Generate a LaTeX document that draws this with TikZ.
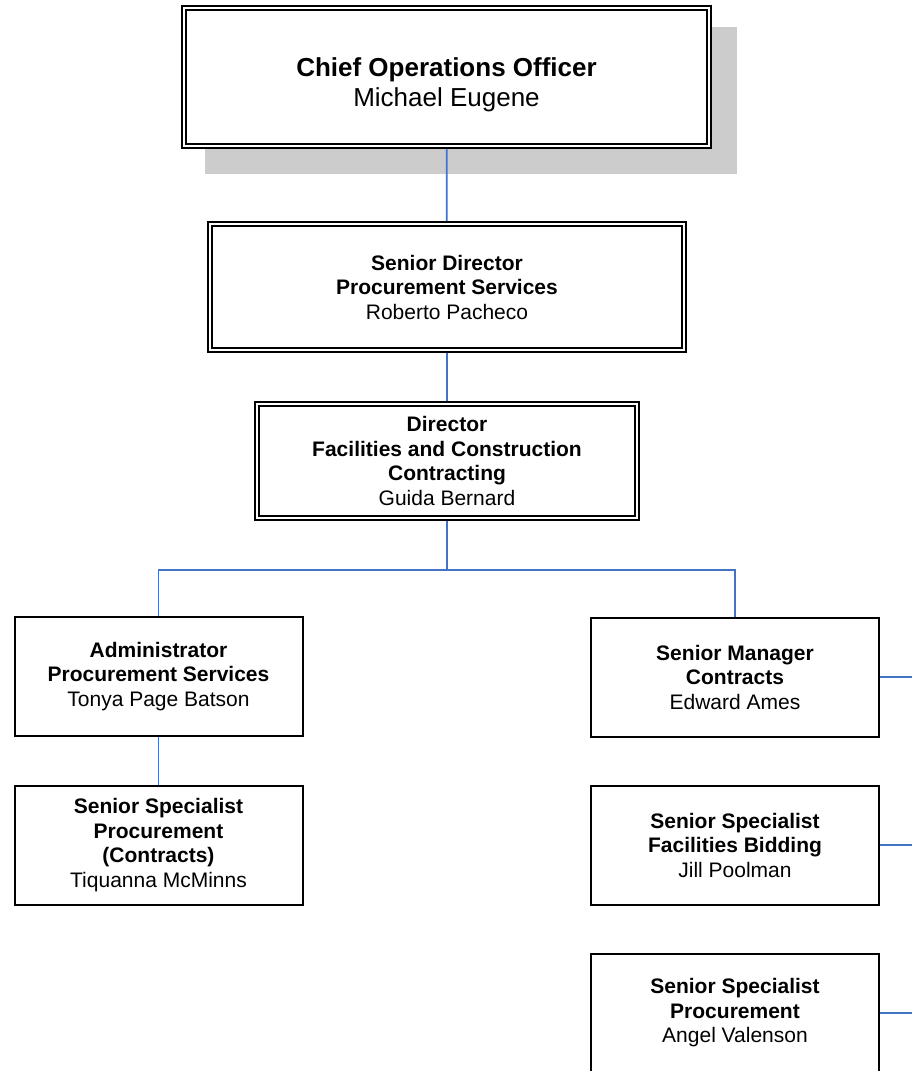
\documentclass[tikz,border=0pt]{standalone}
\usepackage{fontspec}
\setmainfont{Liberation Sans}
\usetikzlibrary{backgrounds}
\definecolor{conn}{HTML}{4472C4}
\definecolor{shadowgray}{HTML}{CCCCCC}
\begin{document}
\begin{tikzpicture}[x=1pt,y=-1pt,
  dbox/.style={draw=black,fill=white,line width=1.8pt,double=white,double distance=2.6pt,inner sep=0pt,align=center,font=\fontsize{21}{24.5}\selectfont},
  sbox/.style={draw=black,fill=white,line width=2pt,inner sep=0pt,align=center,minimum width=288pt,minimum height=119pt,font=\fontsize{21}{24.5}\selectfont},
  link/.style={draw=conn,line width=1.7pt},
  txt/.style={inner sep=0pt,align=center}]
\useasboundingbox (0,0) rectangle (912,1071);
% nodes
\node[dbox,minimum width=525pt,minimum height=138pt] (coo) at (446.5,77) {};
\node[txt,font=\fontsize{26}{30}\selectfont] (cootext) at (446.5,85) {\textbf{Chief Operations Officer}\\Michael Eugene};
\node[dbox,minimum width=474pt,minimum height=126pt] (sd) at (447,287) {\textbf{Senior Director}\\\textbf{Procurement Services}\\Roberto Pacheco};
\node[dbox,minimum width=380pt,minimum height=114pt] (dir) at (447,461) {\textbf{Director}\\\textbf{Facilities and Construction}\\\textbf{Contracting}\\Guida Bernard};
\node[sbox] (adm) at (158.5,676.5) {\textbf{Administrator}\\\textbf{Procurement Services}\\Tonya Page Batson};
\node[sbox] (ssc) at (158.5,845) {\textbf{Senior Specialist}\\\textbf{Procurement}\\\textbf{(Contracts)}\\Tiquanna McMinns};
\node[sbox] (smc) at (735,677) {\textbf{Senior Manager}\\\textbf{Contracts}\\Edward Ames};
\node[sbox] (ssf) at (735,845) {\textbf{Senior Specialist}\\\textbf{Facilities Bidding}\\Jill Poolman};
\node[sbox] (ssp) at (735,1013) {\textbf{Senior Specialist}\\\textbf{Procurement}\\Angel Valenson};
\coordinate (j) at (447,570);
\coordinate (r1) at (912,677);
\coordinate (r2) at (912,845);
\coordinate (r3) at (912,1013);
\begin{pgfonlayer}{background}
\fill[shadowgray] (205,27) rectangle (737,174);
\draw[link] (coo.center) -- (sd.center);
\draw[link] (sd.center) -- (dir.center);
\draw[link] (dir.center) -- (j);
\draw[link] (adm.center) |- (j) -| (smc.center);
\draw[link] (adm.center) -- (ssc.center);
\draw[link] (smc.center) -- (r1);
\draw[link] (ssf.center) -- (r2);
\draw[link] (ssp.center) -- (r3);
\end{pgfonlayer}
\end{tikzpicture}
\end{document}
